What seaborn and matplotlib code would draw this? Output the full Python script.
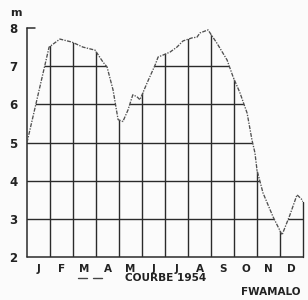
import matplotlib
matplotlib.use("Agg")
import matplotlib.pyplot as plt
from matplotlib.path import Path
import numpy as np
import pandas as pd
import seaborn as sns

# water level curve, FWAMALO 1954 (month position, metres)
month_pos = [0.0, 0.96, 1.43, 1.96, 2.43, 2.96, 3.3, 3.48, 3.74, 3.96, 4.17, 4.39,
             4.6, 4.78, 4.91, 5.22, 5.57, 5.7, 5.91, 6.22, 6.52, 6.78, 7.17, 7.39,
             7.52, 7.87, 8.26, 8.7, 8.96, 9.26, 9.57, 9.78, 9.91, 10.0, 10.26,
             10.7, 11.09, 11.43, 11.74, 11.96, 12.0]
level_m = [5.0, 7.5, 7.71, 7.63, 7.5, 7.42, 7.11, 6.98, 6.38, 5.6, 5.55, 5.85,
           6.25, 6.2, 6.12, 6.56, 7.03, 7.24, 7.29, 7.37, 7.5, 7.66, 7.74, 7.76,
           7.87, 7.95, 7.6, 7.16, 6.72, 6.3, 5.77, 5.07, 4.73, 4.28, 3.68,
           3.05, 2.58, 3.1, 3.63, 3.5, 3.45]
month_labels = ["J", "F", "M", "A", "M", "J", "J", "A", "S", "O", "N", "D"]
level_ticks = [2, 3, 4, 5, 6, 7, 8]

df = pd.DataFrame({"month": month_pos, "level": level_m})

sns.set_style("white")
plt.rcParams["font.family"] = ["DejaVu Sans"]

fig = plt.figure(figsize=(3.08, 3.00), dpi=100)
fig.patch.set_facecolor("#fbfbfb")
ax = fig.add_axes([27 / 308, 1 - 257 / 300, 276 / 308, 229 / 300])
ax.set_facecolor("none")
ax.set_xlim(0, 12)
ax.set_ylim(2, 8)
for s in ax.spines.values():
    s.set_visible(False)

grid_col = "#2b2b2b"

# area under the curve, used to clip the grid
verts = [(0, 2)] + list(zip(month_pos, level_m)) + [(12, 2), (0, 2)]
under = Path(verts, closed=True)

for yv in level_ticks[1:-1]:
    ln, = ax.plot([0, 12], [yv, yv], color=grid_col, lw=1.0)
    ln.set_clip_path(under, ax.transData)
for xv in range(1, 12):
    ln, = ax.plot([xv, xv], [2, 8], color=grid_col, lw=1.0)
    ln.set_clip_path(under, ax.transData)

# frame: left axis, stub at 8, baseline, right edge up to the curve
ax.plot([0, 0], [2, 8], color=grid_col, lw=1.1, clip_on=False)
ax.plot([0, 0.35], [8, 8], color=grid_col, lw=1.1, clip_on=False)
ax.plot([0, 12], [2, 2], color=grid_col, lw=1.1, clip_on=False)
ax.plot([12, 12], [2, level_m[-1]], color=grid_col, lw=1.0, clip_on=False)

sns.lineplot(data=df, x="month", y="level", ax=ax, color="#505050", lw=0.95,
             linestyle=(0, (3, 1, 1, 1)), sort=False)

ax.set_xticks([m + 0.5 for m in range(12)])
ax.set_xticklabels(month_labels, fontsize=7.5, fontweight="bold", color="#222")
ax.set_yticks(level_ticks)
ax.set_yticklabels([str(v) for v in level_ticks], fontsize=8.5, fontweight="bold", color="#222")
ax.tick_params(axis="x", length=0, pad=5)
ax.tick_params(axis="y", length=0, pad=7)
ax.set_xlabel("")
ax.set_ylabel("")

fig.text(16 / 308, 1 - 13 / 300, "m", fontsize=8, fontweight="bold", color="#222",
         ha="center", va="center")
fig.lines.append(plt.Line2D([78 / 308, 87 / 308], [1 - 278 / 300] * 2,
                            transform=fig.transFigure, color="#444", lw=1.0))
fig.lines.append(plt.Line2D([93 / 308, 102 / 308], [1 - 278 / 300] * 2,
                            transform=fig.transFigure, color="#444", lw=1.0))
fig.text(125 / 308, 1 - 278 / 300, "COURBE 1954", fontsize=7.6, fontweight="bold",
         color="#222", ha="left", va="center")
fig.text(300 / 308, 1 - 292 / 300, "FWAMALO", fontsize=7.5, fontweight="bold",
         color="#222", ha="right", va="center")

fig.savefig("out.png", dpi=100, facecolor=fig.get_facecolor())
